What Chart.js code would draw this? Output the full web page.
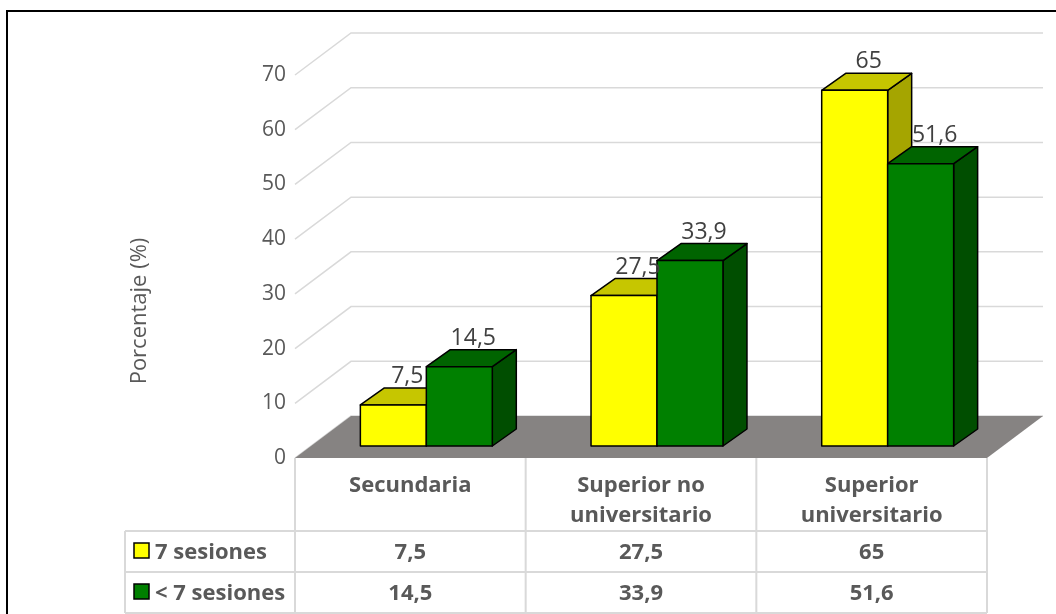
<!DOCTYPE html>
<html>
<head>
<meta charset="utf-8">
<script src="https://cdn.jsdelivr.net/npm/chart.js@4.4.1/dist/chart.umd.min.js"></script>
<style>
  html, body { margin: 0; padding: 0; background: #fff; }
  #wrap { width: 1056px; height: 614px; position: relative; }
</style>
</head>
<body>
<div id="wrap"><canvas id="chart-bar3d"></canvas></div>
<script>
// Chart data
const CATEGORIES = [["Secundaria"], ["Superior no", "universitario"], ["Superior", "universitario"]];
const SERIES_NAMES = ["7 sesiones", "< 7 sesiones"];
const SIETE_SESIONES = [7.5, 27.5, 65];
const MENOS_SIETE_SESIONES = [14.5, 33.9, 51.6];
const Y_TICKS = [0, 10, 20, 30, 40, 50, 60, 70];
const AXIS_TITLE = "Porcentaje (%)";

const FONT = "'Open Sans', 'Noto Sans', sans-serif";
const TEXT_GREY = "#595959";
const FACES = [
  { front: "#ffff00", top: "#c6c600", side: "#a5a500" },
  { front: "#008000", top: "#006400", side: "#004e00" },
];
// 3d offsets (floor depth, bar plane shift, bar depth)
const FLOOR = { dx: 56, dy: -42 };
const SHIFT = { dx: 16, dy: -12 };
const DEPTH = { dx: 24, dy: -17 };
const TABLE = { left: 125, header: 73, row: 41 };

const fmt = (v) => String(v).replace(".", ",");

const poly = (ctx, pts, fill) => {
  ctx.beginPath();
  pts.forEach(([px, py], i) => (i ? ctx.lineTo(px, py) : ctx.moveTo(px, py)));
  ctx.closePath();
  ctx.fillStyle = fill;
  ctx.fill();
  ctx.stroke();
};

const bar3d = {
  id: "bar3d",
  beforeDatasetsDraw(chart) {
    const { ctx, chartArea: a, scales: { y } } = chart;
    ctx.save();
    // back walls gridlines
    ctx.strokeStyle = "#d9d9d9";
    ctx.lineWidth = 1.5;
    Y_TICKS.forEach((t) => {
      const py = y.getPixelForValue(t);
      ctx.beginPath();
      ctx.moveTo(a.left, py);
      ctx.lineTo(a.left + FLOOR.dx, py + FLOOR.dy);
      ctx.lineTo(a.right + FLOOR.dx, py + FLOOR.dy);
      ctx.stroke();
    });
    // floor
    const y0 = y.getPixelForValue(0);
    ctx.fillStyle = "#868382";
    ctx.beginPath();
    ctx.moveTo(a.left, y0);
    ctx.lineTo(a.right, y0);
    ctx.lineTo(a.right + FLOOR.dx, y0 + FLOOR.dy);
    ctx.lineTo(a.left + FLOOR.dx, y0 + FLOOR.dy);
    ctx.closePath();
    ctx.fill();
    ctx.restore();
  },
  afterDatasetsDraw(chart) {
    const { ctx } = chart;
    const metas = chart.data.datasets.map((_, i) => chart.getDatasetMeta(i));
    ctx.save();
    ctx.translate(SHIFT.dx, SHIFT.dy);
    ctx.strokeStyle = "#000";
    ctx.lineWidth = 1.5;
    ctx.lineJoin = "round";
    const labels = [];
    CATEGORIES.forEach((_, i) => {
      metas.forEach((meta, d) => {
        const { x, y, base, width } = meta.data[i].getProps(["x", "y", "base", "width"], true);
        const l = x - width / 2;
        const r = x + width / 2;
        const f = FACES[d];
        poly(ctx, [[r, y], [r + DEPTH.dx, y + DEPTH.dy], [r + DEPTH.dx, base + DEPTH.dy], [r, base]], f.side);
        poly(ctx, [[l, y], [l + DEPTH.dx, y + DEPTH.dy], [r + DEPTH.dx, y + DEPTH.dy], [r, y]], f.top);
        poly(ctx, [[l, y], [r, y], [r, base], [l, base]], f.front);
        labels.push([fmt(chart.data.datasets[d].data[i]), x + DEPTH.dx / 2 + 2, y + DEPTH.dy - 5]);
      });
    });
    ctx.fillStyle = "#404040";
    ctx.font = `23px ${FONT}`;
    ctx.textAlign = "center";
    ctx.textBaseline = "alphabetic";
    labels.forEach(([t, lx, ly]) => ctx.fillText(t, lx, ly));
    ctx.restore();
  },
  afterDraw(chart) {
    const { ctx, chartArea: a, scales: { x } } = chart;
    const colW = (a.right - a.left) / CATEGORIES.length;
    const top = a.bottom;
    const r1 = top + TABLE.header;
    const r2 = r1 + TABLE.row;
    const r3 = r2 + TABLE.row;
    ctx.save();

    // axis title
    ctx.fillStyle = TEXT_GREY;
    ctx.font = `22px ${FONT}`;
    ctx.textAlign = "center";
    ctx.textBaseline = "middle";
    ctx.translate(140, 311);
    ctx.rotate(-Math.PI / 2);
    ctx.fillText(AXIS_TITLE, 0, 0);
    ctx.setTransform(1, 0, 0, 1, 0, 0);

    // data table lines
    ctx.strokeStyle = "#d9d9d9";
    ctx.lineWidth = 2;
    ctx.beginPath();
    [r1, r2, r3].forEach((ry) => {
      ctx.moveTo(TABLE.left, ry);
      ctx.lineTo(a.right, ry);
    });
    ctx.moveTo(TABLE.left, r1);
    ctx.lineTo(TABLE.left, r3);
    for (let i = 0; i <= CATEGORIES.length; i++) {
      ctx.moveTo(a.left + i * colW, top);
      ctx.lineTo(a.left + i * colW, r3);
    }
    ctx.stroke();

    // table text
    ctx.fillStyle = TEXT_GREY;
    ctx.font = `bold 22px ${FONT}`;
    ctx.textAlign = "center";
    ctx.textBaseline = "alphabetic";
    CATEGORIES.forEach((lines, i) => {
      const cx = x.getPixelForValue(i);
      lines.forEach((ln, k) => ctx.fillText(ln, cx, top + 34 + k * 30));
      chart.data.datasets.forEach((ds, d) => {
        ctx.fillText(fmt(ds.data[i]), cx, r1 + 28 + d * TABLE.row);
      });
    });

    // legend keys in the table
    ctx.textAlign = "left";
    SERIES_NAMES.forEach((name, d) => {
      const ry = r1 + d * TABLE.row;
      ctx.fillStyle = FACES[d].front;
      ctx.strokeStyle = "#000";
      ctx.lineWidth = 1.5;
      ctx.fillRect(134, ry + 12, 15, 15);
      ctx.strokeRect(134, ry + 12, 15, 15);
      ctx.fillStyle = TEXT_GREY;
      ctx.fillText(name, 155, ry + 28);
    });

    // outer frame
    ctx.strokeStyle = "#000";
    ctx.lineWidth = 2;
    ctx.strokeRect(7, 11, 1100, 700);
    ctx.restore();
  },
};

const CHART_WRAPPER = document.getElementById("chart-bar3d");

const DATA = {
  labels: CATEGORIES,
  datasets: [
    {
      label: SERIES_NAMES[0],
      data: SIETE_SESIONES,
      backgroundColor: "transparent",
      borderWidth: 0,
    },
    {
      label: SERIES_NAMES[1],
      data: MENOS_SIETE_SESIONES,
      backgroundColor: "transparent",
      borderWidth: 0,
    },
  ],
};

const CONFIG = {
  type: "bar",
  data: DATA,
  plugins: [bar3d],
  options: {
    responsive: true,
    maintainAspectRatio: false,
    animation: false,
    categoryPercentage: 0.572,
    barPercentage: 1,
    layout: {
      padding: { left: 0, top: 75, right: 69, bottom: 156 },
    },
    plugins: {
      legend: { display: false },
      title: { display: false },
      tooltip: { enabled: false },
    },
    scales: {
      x: { display: false },
      y: {
        min: 0,
        max: 70,
        border: { display: false },
        grid: { display: false, drawTicks: false },
        ticks: {
          stepSize: 10,
          padding: 9,
          color: TEXT_GREY,
          font: { family: FONT, size: 21 },
        },
        afterFit: (scale) => {
          scale.width = 295;
        },
      },
    },
  },
};

Promise.all([
  document.fonts.load(`21px ${FONT}`),
  document.fonts.load(`bold 22px ${FONT}`),
]).finally(() => {
  new Chart(CHART_WRAPPER, CONFIG);
});
</script>
</body>
</html>
